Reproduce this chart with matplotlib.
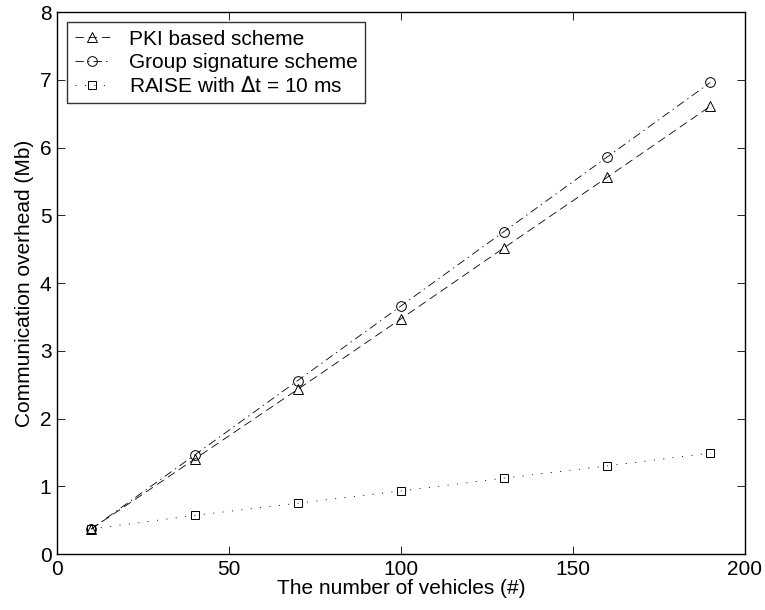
import numpy as np
import matplotlib
matplotlib.use("Agg")
import matplotlib.pyplot as plt

# data
vehicles = [10, 40, 70, 100, 130, 160, 190]
pki = [0.37, 1.40, 2.43, 3.47, 4.52, 5.56, 6.61]
group_sig = [0.37, 1.46, 2.56, 3.66, 4.76, 5.86, 6.96]
raise_10ms = [0.37, 0.57, 0.75, 0.93, 1.12, 1.30, 1.49]

plt.rcParams.update({
    "font.family": ["Liberation Sans", "DejaVu Sans"],
    "font.size": 15,
    "axes.linewidth": 1.0,
    "xtick.direction": "in",
    "ytick.direction": "in",
    "xtick.top": True,
    "ytick.right": True,
    "lines.scale_dashes": False,
})

fig = plt.figure(figsize=(7.65, 6.1), dpi=100)
ax = fig.add_axes([0.0745, 0.0918, 0.899, 0.8885])

ax.plot(vehicles, pki, color="black", lw=0.6, marker="^", ms=7,
        mfc="none", mew=0.7, dashes=(6, 3.5), label="PKI based scheme")
ax.plot(vehicles, group_sig, color="black", lw=0.6, marker="o", ms=7,
        mfc="none", mew=0.7, dashes=(6, 3, 1, 3),
        label="Group signature scheme")
ax.plot(vehicles, raise_10ms, color="black", lw=0.6, marker="s", ms=5.5,
        mfc="none", mew=0.7, dashes=(0.8, 6), label=r"RAISE with $\Delta$t = 10 ms")

ax.set_xlim(0, 200)
ax.set_ylim(0, 8)
ax.set_xticks([0, 50, 100, 150, 200])
ax.set_yticks(range(0, 9))
ax.set_xlabel("The number of vehicles (#)", labelpad=0)
ax.set_ylabel("Communication overhead (Mb)", labelpad=4)
ax.tick_params(length=6, width=0.6, pad=4)

leg = ax.legend(loc="upper left", fancybox=False, edgecolor="black",
                handlelength=1.7, borderaxespad=0.5, labelspacing=0.2,
                handletextpad=0.9, borderpad=0.35, fontsize=15)
leg.get_frame().set_linewidth(1.0)

fig.savefig("out.png", dpi=100)
